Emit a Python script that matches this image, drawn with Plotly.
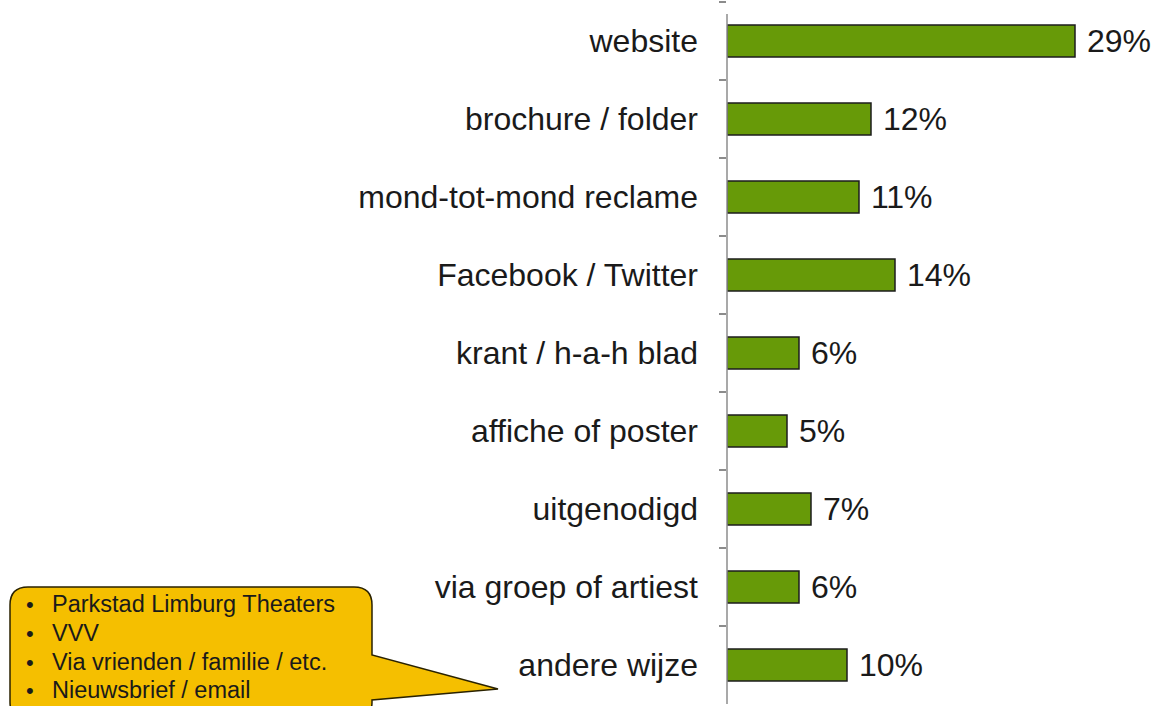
import plotly.graph_objects as go

categories = ["website", "brochure / folder", "mond-tot-mond reclame", "Facebook / Twitter",
              "krant / h-a-h blad", "affiche of poster", "uitgenodigd",
              "via groep of artiest", "andere wijze"]
values = [29, 12, 11, 14, 6, 5, 7, 6, 10]
value_labels = [f"\u00a0{v}%" for v in values]
callout_items = ["Parkstad Limburg Theaters", "VVV", "Via vrienden / familie / etc.", "Nieuwsbrief / email"]

W, H = 1159, 706
ML, MR, MT, MB = 727, 0, 2, 2
PW, PH = W - ML - MR, H - MT - MB
FONT = "Liberation Sans, Arial, sans-serif"
TXT = "#1a1a1a"
AX = "#8c8c8c"

def px(x):
    return (x - ML) / PW

def py(y):
    return (H - MB - y) / PH

fig = go.Figure(go.Bar(
    y=categories, x=values, orientation="h",
    marker=dict(color="#679A08", line=dict(color="#1c1c1c", width=1.5)),
    width=0.41,
    text=value_labels, textposition="outside",
    textfont=dict(family=FONT, size=32, color=TXT),
    cliponaxis=False, constraintext="none",
))

fig.update_layout(
    width=W, height=H,
    margin=dict(l=ML, r=MR, t=MT, b=MB, pad=0),
    paper_bgcolor="white", plot_bgcolor="white",
    showlegend=False,
    font=dict(family=FONT, color=TXT),
)
fig.update_xaxes(range=[0, PW / 12.0], visible=False, fixedrange=True)
fig.update_yaxes(
    autorange="reversed", type="category",
    showline=False,
    ticks="outside", tickson="boundaries", ticklen=7, tickcolor=AX, tickwidth=1.5,
    tickfont=dict(family=FONT, size=32, color=TXT),
    ticklabelstandoff=28,
    showgrid=False, zeroline=False,
)

# value axis baseline (starts a little below the top, as in the reference)
fig.add_shape(type="line", xref="paper", yref="paper", x0=0, x1=0, y0=py(14), y1=0,
              line=dict(color=AX, width=1.5), layer="above")

# callout shape (rounded box with pointer)
L, R, T, B, r = 10, 372, 587, 720, 18
tip = (498, 689)
p1y, p2y = 655, 700
pts = [
    f"M {px(L + r)},{py(T)}",
    f"L {px(R - r)},{py(T)}",
    f"Q {px(R)},{py(T)} {px(R)},{py(T + r)}",
    f"L {px(R)},{py(p1y)}",
    f"L {px(tip[0])},{py(tip[1])}",
    f"L {px(R)},{py(p2y)}",
    f"L {px(R)},{py(B - r)}",
    f"Q {px(R)},{py(B)} {px(R - r)},{py(B)}",
    f"L {px(L + r)},{py(B)}",
    f"Q {px(L)},{py(B)} {px(L)},{py(B - r)}",
    f"L {px(L)},{py(T + r)}",
    f"Q {px(L)},{py(T)} {px(L + r)},{py(T)}",
    "Z",
]
fig.add_shape(type="path", xref="paper", yref="paper", path=" ".join(pts),
              fillcolor="#F5BF00", line=dict(color="#2a2200", width=1.5), layer="above")

line_centers = [604, 633, 662, 690]
for item, yc in zip(callout_items, line_centers):
    fig.add_annotation(
        xref="paper", yref="paper", x=px(24), y=py(yc), xanchor="left", yanchor="middle",
        text="•", showarrow=False, font=dict(family=FONT, size=22, color=TXT),
    )
    fig.add_annotation(
        xref="paper", yref="paper", x=px(50), y=py(yc), xanchor="left", yanchor="middle",
        text=item, showarrow=False, font=dict(family=FONT, size=23.5, color=TXT),
    )

fig.write_html("out.html")
